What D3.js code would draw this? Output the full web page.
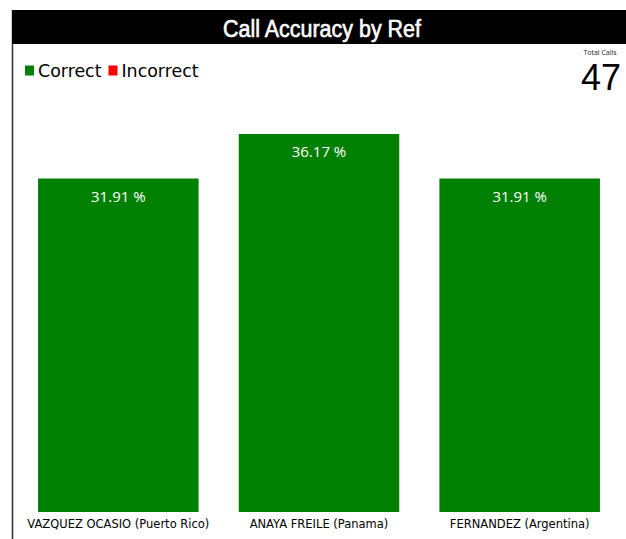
<!DOCTYPE html>
<html><head><meta charset="utf-8">
<script src="https://cdn.jsdelivr.net/npm/d3@7"></script>
<style>html,body{margin:0;padding:0;background:#fff;}svg{display:block;}</style>
</head><body>
<svg id="c" width="626" height="539"></svg>
<script>
const title = "Call Accuracy by Ref";
const categories = ["VAZQUEZ OCASIO (Puerto Rico)", "ANAYA FREILE (Panama)", "FERNANDEZ (Argentina)"];
const correctPct = [31.91, 36.17, 31.91];
const legendItems = ["Correct", "Incorrect"];
const legendColors = ["#008000", "#ff0000"];
const totalCalls = 47;

const svg = d3.select("#c");
// panel border + title bar
svg.append("line").attr("x1",12.5).attr("x2",12.5).attr("y1",10).attr("y2",539)
  .attr("stroke","#333").attr("stroke-width",1.5);
svg.append("rect").attr("x",12).attr("y",10).attr("width",614).attr("height",34).attr("fill","#000");
svg.append("text").attr("x",322).attr("y",36.5).attr("text-anchor","middle")
  .attr("font-family","Liberation Sans, Arial, sans-serif").attr("font-size",23)
  .attr("stroke","#fff").attr("stroke-width",0.6)
  .attr("textLength",198).attr("lengthAdjust","spacingAndGlyphs")
  .attr("fill","#fff").text(title);

// legend
const lg = svg.append("g");
let lx = 25;
legendItems.forEach((t,i)=>{
  lg.append("rect").attr("x",lx).attr("y",65.5).attr("width",9).attr("height",10).attr("fill",legendColors[i]);
  const tx = lg.append("text").attr("x",lx+13).attr("y",77)
    .attr("font-family","DejaVu Sans, sans-serif").attr("font-size",17.4).attr("fill","#000").text(t);
  lx += 13 + tx.node().getComputedTextLength() + 7;
});

// total calls
svg.append("text").attr("x",600).attr("y",55).attr("text-anchor","middle")
  .attr("font-family","Open Sans, sans-serif").attr("font-size",7).attr("fill","#222").text("Total Calls");
svg.append("text").attr("x",601).attr("y",90).attr("text-anchor","middle")
  .attr("font-family","Liberation Sans, Arial, sans-serif").attr("font-size",36).attr("fill","#000").text(totalCalls);

// scales
const x = d3.scaleBand().domain(categories).range([18, 620]).paddingInner(0.2).paddingOuter(0.1);
const y = d3.scaleLinear().domain([0, d3.max(correctPct)]).range([512, 134]);

const g = svg.append("g");
g.selectAll("rect.bar").data(categories).join("rect").attr("class","bar")
  .attr("x",d=>x(d)).attr("width",x.bandwidth())
  .attr("y",(d,i)=>y(correctPct[i])).attr("height",(d,i)=>y(0)-y(correctPct[i]))
  .attr("fill","#008000");
g.selectAll("text.val").data(categories).join("text").attr("class","val")
  .attr("x",d=>x(d)+x.bandwidth()/2).attr("y",(d,i)=>y(correctPct[i])+23)
  .attr("text-anchor","middle").attr("font-family","Open Sans, sans-serif").attr("font-size",15)
  .attr("fill","#fff").text((d,i)=>correctPct[i].toFixed(2)+" %");

// x axis labels
const xa = svg.append("g").attr("transform","translate(0,512)")
  .call(d3.axisBottom(x).tickSize(0).tickPadding(8));
xa.select(".domain").remove();
xa.selectAll("text").attr("font-family","DejaVu Sans, sans-serif").attr("font-size",11.5).attr("fill","#000");
</script>
</body></html>
